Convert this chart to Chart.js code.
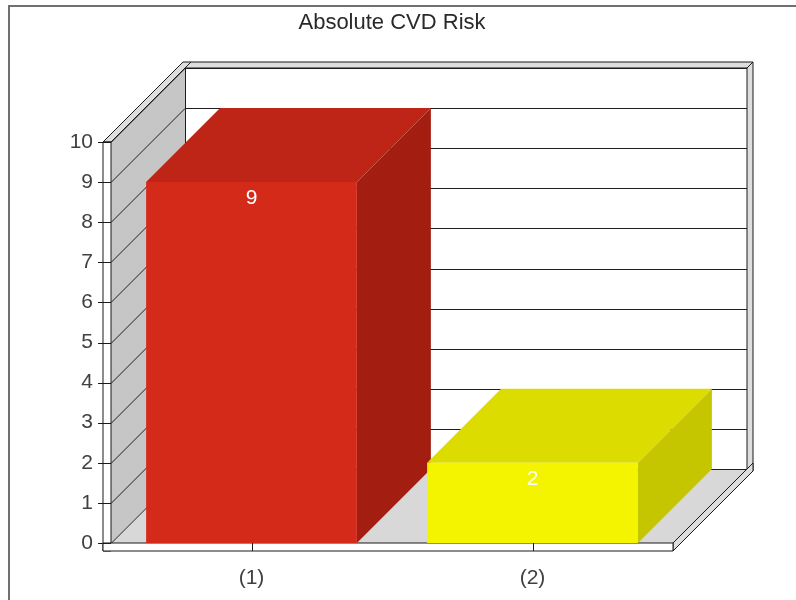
<!DOCTYPE html>
<html>
<head>
<meta charset="utf-8">
<title>Absolute CVD Risk</title>
<script src="https://cdn.jsdelivr.net/npm/chart.js@4/dist/chart.umd.min.js"></script>
<style>
  html, body { margin: 0; padding: 0; background: #ffffff; }
  canvas { display: block; }
</style>
</head>
<body>
<canvas id="chart" width="796" height="600"></canvas>
<script>
// ---- data ----
const categories = ['(1)', '(2)'];
const riskValues = [9, 2];
const yTickValues = [0, 1, 2, 3, 4, 5, 6, 7, 8, 9, 10];
const chartTitle = 'Absolute CVD Risk';

// ---- styling ----
const frontColors = ['#d42a1a', '#f4f400'];
const topColors   = ['#bf2517', '#dcdc00'];
const sideColors  = ['#a31d11', '#c5c500'];
const FONT = "'Liberation Sans', Arial, sans-serif";

// depth of the 3D box (pixels along the receding diagonal)
const DX = 74, DY = 74;
// wall slab thickness
const SLAB = 8, BACK_T = 6;

function poly(ctx, pts, fill, stroke) {
  ctx.beginPath();
  ctx.moveTo(pts[0][0], pts[0][1]);
  for (let i = 1; i < pts.length; i++) ctx.lineTo(pts[i][0], pts[i][1]);
  ctx.closePath();
  if (fill) { ctx.fillStyle = fill; ctx.fill(); }
  if (stroke) { ctx.strokeStyle = stroke; ctx.stroke(); }
}
function seg(ctx, x1, y1, x2, y2) {
  ctx.beginPath();
  ctx.moveTo(x1, y1);
  ctx.lineTo(x2, y2);
  ctx.stroke();
}

// Walls, floor, grid and slabs behind the bars
const box3d = {
  id: 'box3d',
  beforeDraw(chart) {
    const { ctx, chartArea: a, scales: { x, y } } = chart;
    const L = a.left, R = a.right, T = y.getPixelForValue(yTickValues[yTickValues.length - 1]), B = y.getPixelForValue(0);
    ctx.save();

    // outer frame
    ctx.strokeStyle = '#707070';
    ctx.lineWidth = 2;
    ctx.beginPath();
    ctx.moveTo(9, 700); ctx.lineTo(9, 6); ctx.lineTo(900, 6);
    ctx.stroke();
    ctx.lineWidth = 1;

    // back wall
    poly(ctx, [[L + DX, T - DY], [R + DX, T - DY], [R + DX, B - DY], [L + DX, B - DY]], '#ffffff');
    // floor
    poly(ctx, [[L, B], [R, B], [R + DX, B - DY], [L + DX, B - DY]], '#d8d8d8');
    // left wall
    poly(ctx, [[L, T], [L + DX, T - DY], [L + DX, B - DY], [L, B]], '#c6c6c6');

    // grid lines on the back and left walls
    ctx.strokeStyle = '#1e1e1e';
    for (const v of yTickValues) {
      const py = Math.round(y.getPixelForValue(v)) + 0.5;
      seg(ctx, L + DX, py - DY, R + DX, py - DY);
      seg(ctx, L, py, L + DX, py - DY);
    }
    seg(ctx, L + DX + 0.5, T - DY, L + DX + 0.5, B - DY);
    seg(ctx, R, B, R + DX, B - DY);

    // back wall top and right slabs
    poly(ctx, [[L + DX, T - DY], [R + DX, T - DY], [R + DX + BACK_T, T - DY - BACK_T], [L + DX + BACK_T, T - DY - BACK_T]], '#dedede', '#1a1a1a');
    poly(ctx, [[R + DX, T - DY], [R + DX + BACK_T, T - DY - BACK_T], [R + DX + BACK_T, B - DY - BACK_T + SLAB], [R + DX, B - DY + SLAB]], '#dedede', '#1a1a1a');
    // left wall top slab
    poly(ctx, [[L - SLAB, T], [L, T], [L + DX + BACK_T, T - DY - BACK_T], [L + DX + BACK_T - SLAB, T - DY - BACK_T]], '#dedede', '#1a1a1a');
    // floor right slab
    poly(ctx, [[R, B], [R + DX + BACK_T, B - DY - BACK_T], [R + DX + BACK_T, B - DY - BACK_T + SLAB], [R, B + SLAB]], '#dedede', '#1a1a1a');
    // left wall front slab
    poly(ctx, [[L - SLAB, T], [L, T], [L, B + SLAB], [L - SLAB, B + SLAB]], '#ffffff', '#1a1a1a');
    // floor front slab
    poly(ctx, [[L - SLAB, B], [R, B], [R, B + SLAB], [L - SLAB, B + SLAB]], '#ffffff', '#1a1a1a');

    // tick marks on the left slab
    for (const v of yTickValues) {
      const py = Math.round(y.getPixelForValue(v)) + 0.5;
      seg(ctx, L - SLAB - 5, py, L, py);
    }
    // tick marks on the floor slab at the category centres
    categories.forEach((c, i) => {
      const px = Math.round(x.getPixelForValue(i)) + 0.5;
      seg(ctx, px, B, px, B + SLAB);
    });
    ctx.restore();
  },
  // top and side faces of each bar, behind the front faces
  beforeDatasetsDraw(chart) {
    const { ctx } = chart;
    const meta = chart.getDatasetMeta(0);
    ctx.save();
    meta.data.forEach((bar, i) => {
      const { x, y, base, width } = bar.getProps(['x', 'y', 'base', 'width'], true);
      const l = x - width / 2, r = x + width / 2;
      poly(ctx, [[r, y], [r + DX, y - DY], [r + DX, base - DY], [r, base]], sideColors[i]);
      poly(ctx, [[l, y], [r, y], [r + DX, y - DY], [l + DX, y - DY]], topColors[i]);
    });
    ctx.restore();
  },
  // value labels on the bar fronts
  afterDatasetsDraw(chart) {
    const { ctx } = chart;
    const meta = chart.getDatasetMeta(0);
    ctx.save();
    ctx.fillStyle = '#ffffff';
    ctx.font = '21px ' + FONT;
    ctx.textAlign = 'center';
    ctx.textBaseline = 'middle';
    meta.data.forEach((bar, i) => {
      ctx.fillText(String(riskValues[i]), bar.x, bar.y + 16);
    });
    ctx.restore();
  }
};

Chart.defaults.font.family = FONT;

new Chart(document.getElementById('chart'), {
  type: 'bar',
  data: {
    labels: categories,
    datasets: [{
      data: riskValues,
      backgroundColor: frontColors,
      borderWidth: 0,
      barPercentage: 0.75,
      categoryPercentage: 1.0
    }]
  },
  options: {
    responsive: false,
    animation: false,
    events: [],
    layout: { padding: { left: 51, right: 123, top: 6, bottom: 9 } },
    plugins: {
      legend: { display: false },
      tooltip: { enabled: false },
      title: {
        display: true,
        text: chartTitle,
        fullSize: false,
        color: '#2a2a2a',
        font: { size: 22, weight: 'normal', family: FONT, lineHeight: 1.2 },
        padding: { top: 4, bottom: 105.6 }
      }
    },
    scales: {
      x: {
        grid: { display: false, drawTicks: false },
        border: { display: false },
        ticks: { color: '#404040', font: { size: 21 }, padding: 23 },
        afterFit(scale) { scale.height = 48; }
      },
      y: {
        min: 0,
        max: 10,
        grid: { display: false, drawTicks: false },
        border: { display: false },
        afterBuildTicks(scale) { scale.ticks = yTickValues.map(v => ({ value: v })); },
        ticks: { color: '#404040', font: { size: 21 }, padding: 18 },
        afterFit(scale) { scale.width = 60; }
      }
    }
  },
  plugins: [box3d]
});
</script>
</body>
</html>
